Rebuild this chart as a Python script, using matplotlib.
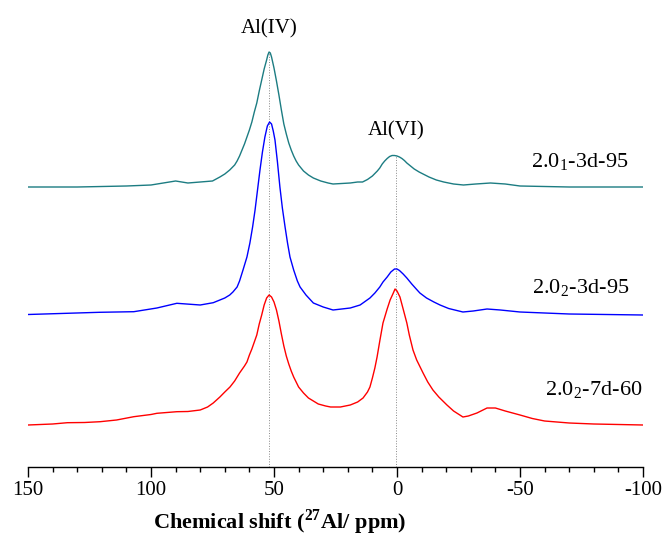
import matplotlib
matplotlib.use('Agg')
import matplotlib.pyplot as plt

plt.rcParams['font.family'] = ['Liberation Serif', 'DejaVu Serif']
plt.rcParams['mathtext.fontset'] = 'stix'
plt.rcParams['axes.unicode_minus'] = False

# 27Al NMR spectra, intensities (relative to each baseline)
ppm_top = [150, 130, 110, 100, 90, 85, 80, 75, 72, 70, 68, 66, 65, 64, 63, 62, 61, 60, 59, 58,
           57, 56, 55, 54, 53, 52.5, 52, 51.5, 51, 50, 49, 48, 47, 46, 45, 44, 43, 42, 41,
           40, 38, 36, 34, 31, 28, 26, 19, 16, 14, 12, 10, 8, 7, 6, 5, 4, 3, 2, 1, 0, -1,
           -2, -3, -4, -5, -6, -7, -9, -11, -13, -16, -19, -23, -27, -32, -38, -44, -50,
           -70, -100]
int_top = [0, 0, 1, 2, 6, 4, 5, 6, 10, 13, 17, 22, 26, 31, 37, 43, 50, 57, 65, 75,
           84, 96, 107, 118, 127, 132, 135, 134, 130, 119, 106, 92, 77, 63, 53, 44, 37, 31, 26,
           22, 16, 12, 9, 6, 4, 3, 4, 5, 5, 7.5, 11, 16, 19, 23, 26, 28.5, 30.5, 31.5, 31.5, 31, 30,
           28.5, 26.5, 24, 22, 20, 18, 15, 12.5, 10, 7, 5, 3, 2, 3, 4, 3, 1,
           0, 0]

ppm_mid = [150, 121, 107, 97.6, 89.5, 80, 74.7, 72, 70, 68, 66.7, 65, 64, 62.6, 61, 59.8, 58.7,
           57.7, 56.7, 55.7, 54.7, 53.7, 52.7, 51.8, 51, 50.3, 49.6, 48.6, 47.6, 46.6, 45.5,
           44.5, 43.5, 42, 40.5, 39.4, 37, 34, 30, 26, 19, 15, 11, 9, 7, 5.7, 4, 2.5, 1, 0,
           -1, -2.5, -4, -6, -8, -9.3, -12, -15, -17.5, -21, -26.8, -31, -36.6, -42, -50,
           -70, -100]
int_mid = [0.5, 2.7, 3.3, 7, 11.7, 10, 12.3, 15, 17, 20, 23, 28, 34, 45, 58, 72, 88,
           105, 125, 145, 163, 178, 189, 193, 191, 184, 175, 153, 128, 107, 88,
           72, 58, 45, 34, 28, 20, 12, 8, 5, 7, 10, 17, 22, 28, 33, 38, 43, 46, 46,
           44.5, 41, 37, 31, 25.5, 22, 17, 13, 10, 6.5, 3, 4, 6, 5, 3,
           1, 0]

ppm_bot = [150, 140, 134, 127, 120.7, 114, 107, 100, 97.6, 89.5, 85, 80, 77, 74.7, 72, 70,
           67.9, 66, 64, 62, 61, 60, 59, 58, 57, 56, 55, 54, 53, 52, 51, 50, 49, 48, 47, 46,
           45, 44, 43, 42, 41, 40, 38, 36, 34, 32, 29, 27, 23, 19, 16, 13.8, 12, 11, 10, 9,
           8.1, 7, 5.7, 4, 2.8, 1.5, 0.8, 0, -1.2, -2.5, -4, -5, -6.5, -8, -10.6, -12.5,
           -14.6, -17, -20.3, -23, -26.8, -29, -32.5, -36.6, -40, -44, -50, -55, -60, -70,
           -80, -100]
int_bot = [0, 1, 2.3, 2.5, 3.3, 5, 8.3, 10.5, 11.7, 13.3, 13.5, 15, 18, 22, 28, 33,
           38, 44, 52, 59, 63, 70, 76, 83, 90, 101, 110, 120, 127, 130, 128, 123, 115, 104, 91, 79,
           69, 61, 54, 48, 43, 38, 32, 27, 24, 21, 19, 18, 18, 20, 23, 27, 33, 38, 47, 57,
           68, 84, 102, 116, 125, 132, 136, 134, 128, 116, 102, 90, 75, 65, 52, 43,
           35, 28, 20, 14, 8, 9, 12, 17, 17, 14, 10, 6.5, 4, 2,
           1, 0]

labels = ['2.0$_{\\mathregular{1}}$-3d-95', '2.0$_{\\mathregular{2}}$-3d-95',
          '2.0$_{\\mathregular{2}}$-7d-60']
colors = ['#1c7c82', '#0000ff', '#ff0000']
offsets = [280, 152, 42]

fig = plt.figure(figsize=(6.68, 5.41), dpi=100)
ax = fig.add_axes([28 / 668, (541 - 467) / 541, 615 / 668, 467 / 541])

# reference lines for Al(IV) and Al(VI)
ax.plot([52, 52], [0, 415], color='#888888', lw=0.7, ls=':', zorder=1)
ax.plot([0.5, 0.5], [0, 312], color='#888888', lw=0.7, ls=':', zorder=1)

series = [(ppm_top, int_top), (ppm_mid, int_mid), (ppm_bot, int_bot)]
for (x, y), c, off in zip(series, colors, offsets):
    ax.plot(x, [v + off for v in y], color=c, lw=1.0, zorder=2)

ax.text(628, 379, labels[0], transform=None, ha='right', va='center', fontsize=16)
ax.text(629, 254, labels[1], transform=None, ha='right', va='center', fontsize=16)
ax.text(642, 151, labels[2], transform=None, ha='right', va='center', fontsize=16)

ax.text(52, 438, 'Al(IV)', ha='center', va='center', fontsize=15)
ax.text(0.5, 336, 'Al(VI)', ha='center', va='center', fontsize=15)

ax.set_xlim(150, -100)
ax.set_ylim(0, 467)
ax.set_xticks([150, 100, 50, 0, -50, -100])
ax.set_xticks(range(-90, 150, 10), minor=True)
ax.tick_params(axis='x', which='major', direction='out', length=7, width=1.0, labelsize=15, pad=3)
ax.tick_params(axis='x', which='minor', direction='out', length=3.5, width=1.0)
ax.set_yticks([])
for s in ['top', 'left', 'right']:
    ax.spines[s].set_visible(False)
ax.spines['bottom'].set_linewidth(1.0)

fig.text(280 / 668, 1 - 522 / 541, 'Chemical shift ($^{\\mathregular{27}}$Al/ ppm)',
         fontsize=16, fontweight='bold', ha='center', va='center')

fig.savefig('out.png', dpi=100)
